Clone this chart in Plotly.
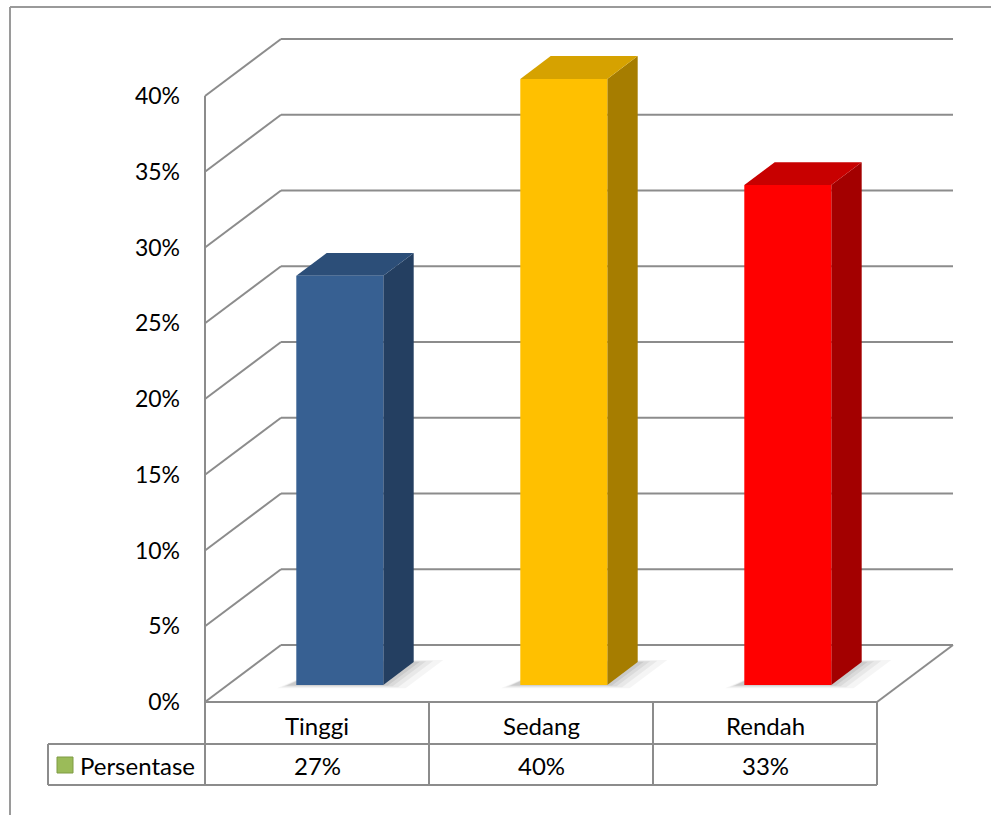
import plotly.graph_objects as go

# ---------------- data ----------------
categories = ["Tinggi", "Sedang", "Rendah"]
values = [27, 40, 33]                       # percent
series_name = "Persentase"
y_ticks = [0, 5, 10, 15, 20, 25, 30, 35, 40]
y_tick_labels = ["0%", "5%", "10%", "15%", "20%", "25%", "30%", "35%", "40%"]
value_labels = ["27%", "40%", "33%"]

front_colors = ["#376092", "#FFC000", "#FF0000"]
top_colors = ["#2C4E78", "#D6A200", "#C80000"]
side_colors = ["#243F61", "#A67D00", "#A30000"]

# ---------------- geometry / styles ----------------
W, H = 991, 815
PX_X0, PX_PER_CAT = 205.0, 224.0      # x=-0.5 at px 205
PX_Y0, PX_PER_PCT = 702.0, 15.15      # 0% at px 702
DX = 76.0 / PX_PER_CAT                # depth shift (category units)
DY = 57.0 / PX_PER_PCT                # depth shift (percent units)
BAR_W = 87.0 / PX_PER_CAT
D0, D1 = 0.30, 0.70
YMAX = max(y_ticks)
GRID = "#8C8C8C"
FONT = "Lato"

x_lo = -0.5 - PX_X0 / PX_PER_CAT
x_hi = -0.5 + (W - PX_X0) / PX_PER_CAT
y_hi = PX_Y0 / PX_PER_PCT
y_lo = -(H - PX_Y0) / PX_PER_PCT


def proj(x, v, d):
    return x + d * DX, v + d * DY


def px(xp):
    return xp / W


def py(yp):
    return 1 - yp / H


fig = go.Figure()

# walls / floor grid
n = len(categories)
xl, xr = -0.5, n - 0.5
gx, gy = [], []
for t in y_ticks:
    for a, b in [((xl, t, 0), (xl, t, 1)), ((xl, t, 1), (xr, t, 1))]:
        p, q = proj(*a), proj(*b)
        gx += [p[0], q[0], None]
        gy += [p[1], q[1], None]
for a, b in [((xl, 0, 0), (xl, YMAX, 0)), ((xl, 0, 0), (xr, 0, 0)), ((xr, 0, 0), (xr, 0, 1))]:
    p, q = proj(*a), proj(*b)
    gx += [p[0], q[0], None]
    gy += [p[1], q[1], None]
fig.add_trace(go.Scatter(x=gx, y=gy, mode="lines", line=dict(color=GRID, width=2),
                         hoverinfo="skip", showlegend=False))


def poly(pts, color, opacity=1.0):
    xs = [p[0] for p in pts] + [pts[0][0]]
    ys = [p[1] for p in pts] + [pts[0][1]]
    fig.add_trace(go.Scatter(x=xs, y=ys, mode="lines", fill="toself", fillcolor=color,
                             opacity=opacity, line=dict(color=color, width=0),
                             hoverinfo="skip", showlegend=False))


# bars (3D boxes)
for i, (v, fc, tc, sc) in enumerate(zip(values, front_colors, top_colors, side_colors)):
    x0, x1 = i - BAR_W / 2, i + BAR_W / 2
    # soft shadow on floor
    for k, op in [(0.12, 0.04), (0.08, 0.05), (0.05, 0.06), (0.025, 0.07)]:
        sh = [proj(x0 - 0.03 - k * 0.3, 0, D0 - k * 0.5), proj(x1 + k * 1.0, 0, D0 - k * 0.5),
              proj(x1 + k * 1.0, 0, D1 + k * 0.3), proj(x0 + 0.05, 0, D1 + k * 0.3)]
        poly(sh, "rgb(0,0,0)", op)
    side = [proj(x1, 0, D0), proj(x1, 0, D1), proj(x1, v, D1), proj(x1, v, D0)]
    top = [proj(x0, v, D0), proj(x1, v, D0), proj(x1, v, D1), proj(x0, v, D1)]
    front = [proj(x0, 0, D0), proj(x1, 0, D0), proj(x1, v, D0), proj(x0, v, D0)]
    poly(side, sc)
    poly(top, tc)
    poly(front, fc)

# ---------------- table ----------------
shapes = []
LC = "#8C8C8C"
# outer chart border
shapes.append(dict(type="line", xref="paper", yref="paper", x0=px(10), x1=px(W), y0=py(7), y1=py(7),
                   line=dict(color="#9A9A9A", width=2)))
shapes.append(dict(type="line", xref="paper", yref="paper", x0=px(10), x1=px(10), y0=py(7), y1=py(H),
                   line=dict(color="#9A9A9A", width=2)))
row_top, row_mid, row_bot = 702, 744, 785
for b in [xl + k for k in range(n + 1)]:
    shapes.append(dict(type="line", xref="x", yref="paper", x0=b, x1=b, y0=py(row_top), y1=py(row_bot),
                       line=dict(color=LC, width=2)))
for yy in [row_mid, row_bot]:
    shapes.append(dict(type="line", xref="paper", yref="paper", x0=px(48), x1=px(PX_X0 + n * PX_PER_CAT),
                       y0=py(yy), y1=py(yy), line=dict(color=LC, width=2)))
shapes.append(dict(type="line", xref="paper", yref="paper", x0=px(48), x1=px(48),
                   y0=py(row_mid), y1=py(row_bot), line=dict(color=LC, width=2)))
# legend key
shapes.append(dict(type="rect", xref="paper", yref="paper", x0=px(57), x1=px(73), y0=py(773), y1=py(757),
                   fillcolor="#9BBB59", line=dict(color="#7F9B45", width=1)))

annotations = []
for i, (c, lab) in enumerate(zip(categories, value_labels)):
    annotations.append(dict(x=i, y=py(725), xref="x", yref="paper", text=c, showarrow=False,
                            font=dict(family=FONT, size=24, color="#000000"), xanchor="center", yanchor="middle"))
    annotations.append(dict(x=i, y=py(765), xref="x", yref="paper", text=lab, showarrow=False,
                            font=dict(family=FONT, size=24, color="#000000"), xanchor="center", yanchor="middle"))
annotations.append(dict(x=px(78), y=py(765), xref="paper", yref="paper", text=series_name, showarrow=False,
                        font=dict(family=FONT, size=24, color="#000000"), xanchor="left", yanchor="middle"))

fig.update_layout(
    width=W, height=H,
    margin=dict(l=0, r=0, t=0, b=0),
    paper_bgcolor="white", plot_bgcolor="white",
    showlegend=False,
    shapes=shapes,
    annotations=annotations,
    xaxis=dict(range=[x_lo, x_hi], visible=False, fixedrange=True),
    yaxis=dict(range=[y_lo, y_hi], anchor="free", position=PX_X0 / W, side="left",
               tickvals=y_ticks, ticktext=y_tick_labels, ticks="", ticklabelstandoff=25,
               showgrid=False, zeroline=False, showline=False, automargin=False,
               tickfont=dict(family=FONT, size=23, color="#000000"), fixedrange=True),
)

fig.write_html("out.html")
